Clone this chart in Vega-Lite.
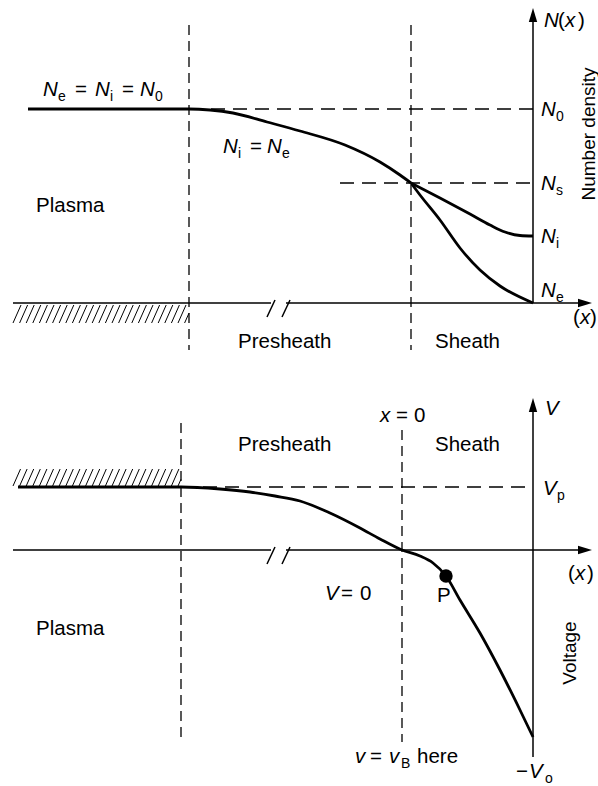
{
  "$schema": "https://vega.github.io/schema/vega-lite/v6.json",
  "width": 598,
  "height": 786,
  "padding": 0,
  "autosize": {"type": "none"},
  "background": "white",
  "config": {"view": {"stroke": null}, "text": {"font": "Liberation Sans", "color": "black"}},
  "datasets": {
    "solid": [
      {"x": 533, "y": 20, "x2": 533, "y2": 303},
      {"x": 13, "y": 303, "x2": 271, "y2": 303},
      {"x": 286, "y": 303, "x2": 580, "y2": 303},
      {"x": 267, "y": 317, "x2": 275, "y2": 300},
      {"x": 282, "y": 317, "x2": 290, "y2": 300},
      {"x": 533, "y": 411, "x2": 533, "y2": 757},
      {"x": 13, "y": 550, "x2": 271, "y2": 550},
      {"x": 286, "y": 550, "x2": 580, "y2": 550},
      {"x": 267, "y": 564, "x2": 275, "y2": 547},
      {"x": 282, "y": 564, "x2": 290, "y2": 547}
    ],
    "dashV": [
      {"x": 189, "y": 25, "x2": 189, "y2": 350},
      {"x": 411, "y": 25, "x2": 411, "y2": 350},
      {"x": 181, "y": 423, "x2": 181, "y2": 742},
      {"x": 402, "y": 430, "x2": 402, "y2": 742}
    ],
    "dashH": [
      {"x": 189, "y": 109, "x2": 533, "y2": 109},
      {"x": 340, "y": 183, "x2": 533, "y2": 183},
      {"x": 181, "y": 487, "x2": 533, "y2": 487}
    ],
    "hatch": [
      {"x": 13, "y": 323, "x2": 21, "y2": 305},
      {"x": 19.6, "y": 323, "x2": 27.6, "y2": 305},
      {"x": 26.2, "y": 323, "x2": 34.2, "y2": 305},
      {"x": 32.8, "y": 323, "x2": 40.8, "y2": 305},
      {"x": 39.4, "y": 323, "x2": 47.4, "y2": 305},
      {"x": 46, "y": 323, "x2": 54, "y2": 305},
      {"x": 52.6, "y": 323, "x2": 60.6, "y2": 305},
      {"x": 59.2, "y": 323, "x2": 67.2, "y2": 305},
      {"x": 65.8, "y": 323, "x2": 73.8, "y2": 305},
      {"x": 72.4, "y": 323, "x2": 80.4, "y2": 305},
      {"x": 79, "y": 323, "x2": 87, "y2": 305},
      {"x": 85.6, "y": 323, "x2": 93.6, "y2": 305},
      {"x": 92.2, "y": 323, "x2": 100.2, "y2": 305},
      {"x": 98.8, "y": 323, "x2": 106.8, "y2": 305},
      {"x": 105.4, "y": 323, "x2": 113.4, "y2": 305},
      {"x": 112, "y": 323, "x2": 120, "y2": 305},
      {"x": 118.6, "y": 323, "x2": 126.6, "y2": 305},
      {"x": 125.2, "y": 323, "x2": 133.2, "y2": 305},
      {"x": 131.8, "y": 323, "x2": 139.8, "y2": 305},
      {"x": 138.4, "y": 323, "x2": 146.4, "y2": 305},
      {"x": 145, "y": 323, "x2": 153, "y2": 305},
      {"x": 151.6, "y": 323, "x2": 159.6, "y2": 305},
      {"x": 158.2, "y": 323, "x2": 166.2, "y2": 305},
      {"x": 164.8, "y": 323, "x2": 172.8, "y2": 305},
      {"x": 171.4, "y": 323, "x2": 179.4, "y2": 305},
      {"x": 178, "y": 323, "x2": 186, "y2": 305},
      {"x": 184.6, "y": 323, "x2": 189, "y2": 313.1},
      {"x": 13, "y": 486, "x2": 20.5, "y2": 469},
      {"x": 19.6, "y": 486, "x2": 27.1, "y2": 469},
      {"x": 26.2, "y": 486, "x2": 33.7, "y2": 469},
      {"x": 32.8, "y": 486, "x2": 40.3, "y2": 469},
      {"x": 39.4, "y": 486, "x2": 46.9, "y2": 469},
      {"x": 46, "y": 486, "x2": 53.5, "y2": 469},
      {"x": 52.6, "y": 486, "x2": 60.1, "y2": 469},
      {"x": 59.2, "y": 486, "x2": 66.7, "y2": 469},
      {"x": 65.8, "y": 486, "x2": 73.3, "y2": 469},
      {"x": 72.4, "y": 486, "x2": 79.9, "y2": 469},
      {"x": 79, "y": 486, "x2": 86.5, "y2": 469},
      {"x": 85.6, "y": 486, "x2": 93.1, "y2": 469},
      {"x": 92.2, "y": 486, "x2": 99.7, "y2": 469},
      {"x": 98.8, "y": 486, "x2": 106.3, "y2": 469},
      {"x": 105.4, "y": 486, "x2": 112.9, "y2": 469},
      {"x": 112, "y": 486, "x2": 119.5, "y2": 469},
      {"x": 118.6, "y": 486, "x2": 126.1, "y2": 469},
      {"x": 125.2, "y": 486, "x2": 132.7, "y2": 469},
      {"x": 131.8, "y": 486, "x2": 139.3, "y2": 469},
      {"x": 138.4, "y": 486, "x2": 145.9, "y2": 469},
      {"x": 145, "y": 486, "x2": 152.5, "y2": 469},
      {"x": 151.6, "y": 486, "x2": 159.1, "y2": 469},
      {"x": 158.2, "y": 486, "x2": 165.7, "y2": 469},
      {"x": 164.8, "y": 486, "x2": 172.3, "y2": 469},
      {"x": 171.4, "y": 486, "x2": 178.9, "y2": 469},
      {"x": 178, "y": 486, "x2": 181, "y2": 479.2}
    ],
    "curves": [
      {"c": "main", "i": 0, "x": 28, "y": 109},
      {"c": "main", "i": 1, "x": 189, "y": 109},
      {"c": "main", "i": 2, "x": 210, "y": 110},
      {"c": "main", "i": 3, "x": 233, "y": 113},
      {"c": "main", "i": 4, "x": 267, "y": 122},
      {"c": "main", "i": 5, "x": 300, "y": 131},
      {"c": "main", "i": 6, "x": 345, "y": 145},
      {"c": "main", "i": 7, "x": 380, "y": 162},
      {"c": "main", "i": 8, "x": 400, "y": 175},
      {"c": "main", "i": 9, "x": 411, "y": 183},
      {"c": "Ni", "i": 0, "x": 411, "y": 183},
      {"c": "Ni", "i": 1, "x": 440, "y": 198},
      {"c": "Ni", "i": 2, "x": 470, "y": 214},
      {"c": "Ni", "i": 3, "x": 490, "y": 225},
      {"c": "Ni", "i": 4, "x": 505, "y": 232},
      {"c": "Ni", "i": 5, "x": 520, "y": 235.5},
      {"c": "Ni", "i": 6, "x": 533, "y": 236},
      {"c": "Ne", "i": 0, "x": 411, "y": 183},
      {"c": "Ne", "i": 1, "x": 420, "y": 195},
      {"c": "Ne", "i": 2, "x": 440, "y": 220},
      {"c": "Ne", "i": 3, "x": 460, "y": 248},
      {"c": "Ne", "i": 4, "x": 480, "y": 270},
      {"c": "Ne", "i": 5, "x": 500, "y": 286},
      {"c": "Ne", "i": 6, "x": 533, "y": 303},
      {"c": "V", "i": 0, "x": 18, "y": 487},
      {"c": "V", "i": 1, "x": 181, "y": 487},
      {"c": "V", "i": 2, "x": 220, "y": 489},
      {"c": "V", "i": 3, "x": 250, "y": 492},
      {"c": "V", "i": 4, "x": 275, "y": 496},
      {"c": "V", "i": 5, "x": 300, "y": 501},
      {"c": "V", "i": 6, "x": 330, "y": 513},
      {"c": "V", "i": 7, "x": 360, "y": 528},
      {"c": "V", "i": 8, "x": 380, "y": 539},
      {"c": "V", "i": 9, "x": 402, "y": 550},
      {"c": "V", "i": 10, "x": 420, "y": 556},
      {"c": "V", "i": 11, "x": 433, "y": 563},
      {"c": "V", "i": 12, "x": 446, "y": 576},
      {"c": "V", "i": 13, "x": 460, "y": 600},
      {"c": "V", "i": 14, "x": 480, "y": 633},
      {"c": "V", "i": 15, "x": 500, "y": 670},
      {"c": "V", "i": 16, "x": 520, "y": 710},
      {"c": "V", "i": 17, "x": 533, "y": 737}
    ],
    "arrowUp": [{"x": 533, "y": 15}, {"x": 533, "y": 405}],
    "arrowRight": [{"x": 585, "y": 303}, {"x": 585, "y": 550}],
    "pointP": [{"x": 446, "y": 576}],
    "txtReg": [
      {"x": 36, "y": 212, "t": "Plasma"},
      {"x": 238, "y": 348, "t": "Presheath"},
      {"x": 435, "y": 348, "t": "Sheath"},
      {"x": 75, "y": 96, "t": "="},
      {"x": 122, "y": 96, "t": "="},
      {"x": 250, "y": 153, "t": "="},
      {"x": 558, "y": 27, "t": "("},
      {"x": 578, "y": 27, "t": ")"},
      {"x": 573, "y": 324, "t": "("},
      {"x": 590, "y": 324, "t": ")"},
      {"x": 238, "y": 451, "t": "Presheath"},
      {"x": 435, "y": 451, "t": "Sheath"},
      {"x": 396, "y": 422, "t": "="},
      {"x": 414, "y": 422, "t": "0"},
      {"x": 341, "y": 600, "t": "="},
      {"x": 360, "y": 600, "t": "0"},
      {"x": 437, "y": 602, "t": "P"},
      {"x": 36, "y": 635, "t": "Plasma"},
      {"x": 568, "y": 580, "t": "("},
      {"x": 587, "y": 580, "t": ")"},
      {"x": 370, "y": 763, "t": "="},
      {"x": 417, "y": 763, "t": "here"},
      {"x": 516, "y": 778, "t": "−"}
    ],
    "txtIt": [
      {"x": 43, "y": 96, "t": "N"},
      {"x": 95, "y": 96, "t": "N"},
      {"x": 140, "y": 96, "t": "N"},
      {"x": 223, "y": 153, "t": "N"},
      {"x": 267, "y": 153, "t": "N"},
      {"x": 544, "y": 27, "t": "N"},
      {"x": 565, "y": 27, "t": "x"},
      {"x": 541, "y": 116, "t": "N"},
      {"x": 541, "y": 190, "t": "N"},
      {"x": 541, "y": 243, "t": "N"},
      {"x": 541, "y": 297, "t": "N"},
      {"x": 580, "y": 324, "t": "x"},
      {"x": 380, "y": 422, "t": "x"},
      {"x": 545, "y": 415, "t": "V"},
      {"x": 543, "y": 495, "t": "V"},
      {"x": 575, "y": 580, "t": "x"},
      {"x": 325, "y": 600, "t": "V"},
      {"x": 355, "y": 763, "t": "v"},
      {"x": 389, "y": 763, "t": "v"},
      {"x": 529, "y": 778, "t": "V"}
    ],
    "txtSub": [
      {"x": 58, "y": 101, "t": "e"},
      {"x": 110, "y": 101, "t": "i"},
      {"x": 155, "y": 101, "t": "0"},
      {"x": 238, "y": 158, "t": "i"},
      {"x": 282, "y": 158, "t": "e"},
      {"x": 556, "y": 121, "t": "0"},
      {"x": 556, "y": 195, "t": "s"},
      {"x": 556, "y": 248, "t": "i"},
      {"x": 556, "y": 302, "t": "e"},
      {"x": 557, "y": 500, "t": "p"},
      {"x": 401, "y": 768, "t": "B"},
      {"x": 545, "y": 783, "t": "o"}
    ],
    "txtRot": [
      {"x": 589, "y": 134, "t": "Number density"},
      {"x": 570, "y": 653, "t": "Voltage"}
    ]
  },
  "encoding": {
    "x": {"field": "x", "type": "quantitative", "scale": {"domain": [0, 598], "nice": false, "zero": false}, "axis": null},
    "y": {"field": "y", "type": "quantitative", "scale": {"domain": [0, 786], "reverse": true, "nice": false, "zero": false}, "axis": null}
  },
  "layer": [
    {
      "data": {"name": "hatch"},
      "mark": {"type": "rule", "color": "black", "strokeWidth": 1},
      "encoding": {"x2": {"field": "x2"}, "y2": {"field": "y2"}}
    },
    {
      "data": {"name": "dashV"},
      "mark": {"type": "rule", "color": "black", "strokeWidth": 1.3, "strokeDash": [10, 6]},
      "encoding": {"x2": {"field": "x2"}, "y2": {"field": "y2"}}
    },
    {
      "data": {"name": "dashH"},
      "mark": {"type": "rule", "color": "black", "strokeWidth": 1.3, "strokeDash": [14, 8]},
      "encoding": {"x2": {"field": "x2"}, "y2": {"field": "y2"}}
    },
    {
      "data": {"name": "solid"},
      "mark": {"type": "rule", "color": "black", "strokeWidth": 1.5},
      "encoding": {"x2": {"field": "x2"}, "y2": {"field": "y2"}}
    },
    {
      "data": {"name": "curves"},
      "mark": {"type": "line", "color": "black", "strokeWidth": 2.8, "interpolate": "monotone"},
      "encoding": {"detail": {"field": "c"}, "order": {"field": "i", "type": "quantitative"}}
    },
    {
      "data": {"name": "arrowUp"},
      "mark": {"type": "point", "shape": "M0,-1L0.6,1L-0.6,1Z", "size": 196, "filled": true, "color": "black", "opacity": 1}
    },
    {
      "data": {"name": "arrowRight"},
      "mark": {"type": "point", "shape": "M1,0L-1,0.6L-1,-0.6Z", "size": 196, "filled": true, "color": "black", "opacity": 1}
    },
    {
      "data": {"name": "pointP"},
      "mark": {"type": "point", "shape": "circle", "size": 180, "filled": true, "color": "black", "opacity": 1}
    },
    {
      "data": {"name": "txtReg"},
      "mark": {"type": "text", "fontSize": 20.5, "align": "left", "baseline": "alphabetic"},
      "encoding": {"text": {"field": "t"}}
    },
    {
      "data": {"name": "txtIt"},
      "mark": {"type": "text", "fontSize": 20.5, "fontStyle": "italic", "align": "left", "baseline": "alphabetic"},
      "encoding": {"text": {"field": "t"}}
    },
    {
      "data": {"name": "txtSub"},
      "mark": {"type": "text", "fontSize": 14, "align": "left", "baseline": "alphabetic"},
      "encoding": {"text": {"field": "t"}}
    },
    {
      "data": {"name": "txtRot"},
      "mark": {"type": "text", "fontSize": 19, "angle": 270, "align": "center", "baseline": "middle"},
      "encoding": {"text": {"field": "t"}}
    }
  ]
}
